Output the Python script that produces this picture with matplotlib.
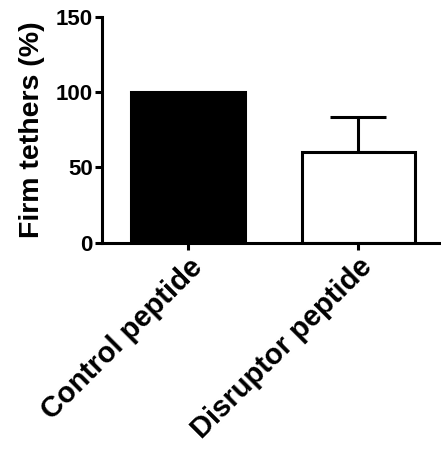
import matplotlib
matplotlib.use("Agg")
import matplotlib.pyplot as plt

# data
groups = ["Control peptide", "Disruptor peptide"]
means = [100, 60.5]
errors = [0, 23.3]
fills = ["black", "white"]

plt.rcParams['font.family'] = ['Liberation Sans', 'DejaVu Sans']
plt.rcParams['font.weight'] = 'bold'

fig = plt.figure(figsize=(4.41, 4.5), dpi=100)
ax = fig.add_axes([102 / 441, 1 - 242.6 / 450, 1 - 102 / 441, (242.6 - 17) / 450])

lw = 2.2
x = list(range(len(groups)))
ax.bar(x, means, width=0.665, color=fills, edgecolor="black", linewidth=lw, zorder=2)
ax.errorbar(x[1], means[1], yerr=[[0], [errors[1]]], fmt="none", ecolor="black",
            elinewidth=lw, capsize=20.5, capthick=lw, zorder=1)

ax.set_xlim(-0.506, 1.488)
ax.set_ylim(0, 150)
ax.set_yticks([0, 50, 100, 150])
ax.set_xticks(x)
ax.set_xticklabels(groups, rotation=45, ha="right", rotation_mode="anchor",
                   fontsize=21, fontweight="bold")
ax.set_ylabel("Firm tethers (%)", fontsize=20.5, fontweight="bold", labelpad=8)

for s in ["top", "right"]:
    ax.spines[s].set_visible(False)
for s in ["left", "bottom"]:
    ax.spines[s].set_linewidth(lw)
ax.tick_params(axis="both", length=5, width=lw, labelsize=16, pad=1.5)
ax.tick_params(axis="x", labelsize=21, pad=2.5)
for lab in ax.get_yticklabels():
    lab.set_fontweight("bold")

fig.savefig("out.png", dpi=100)
